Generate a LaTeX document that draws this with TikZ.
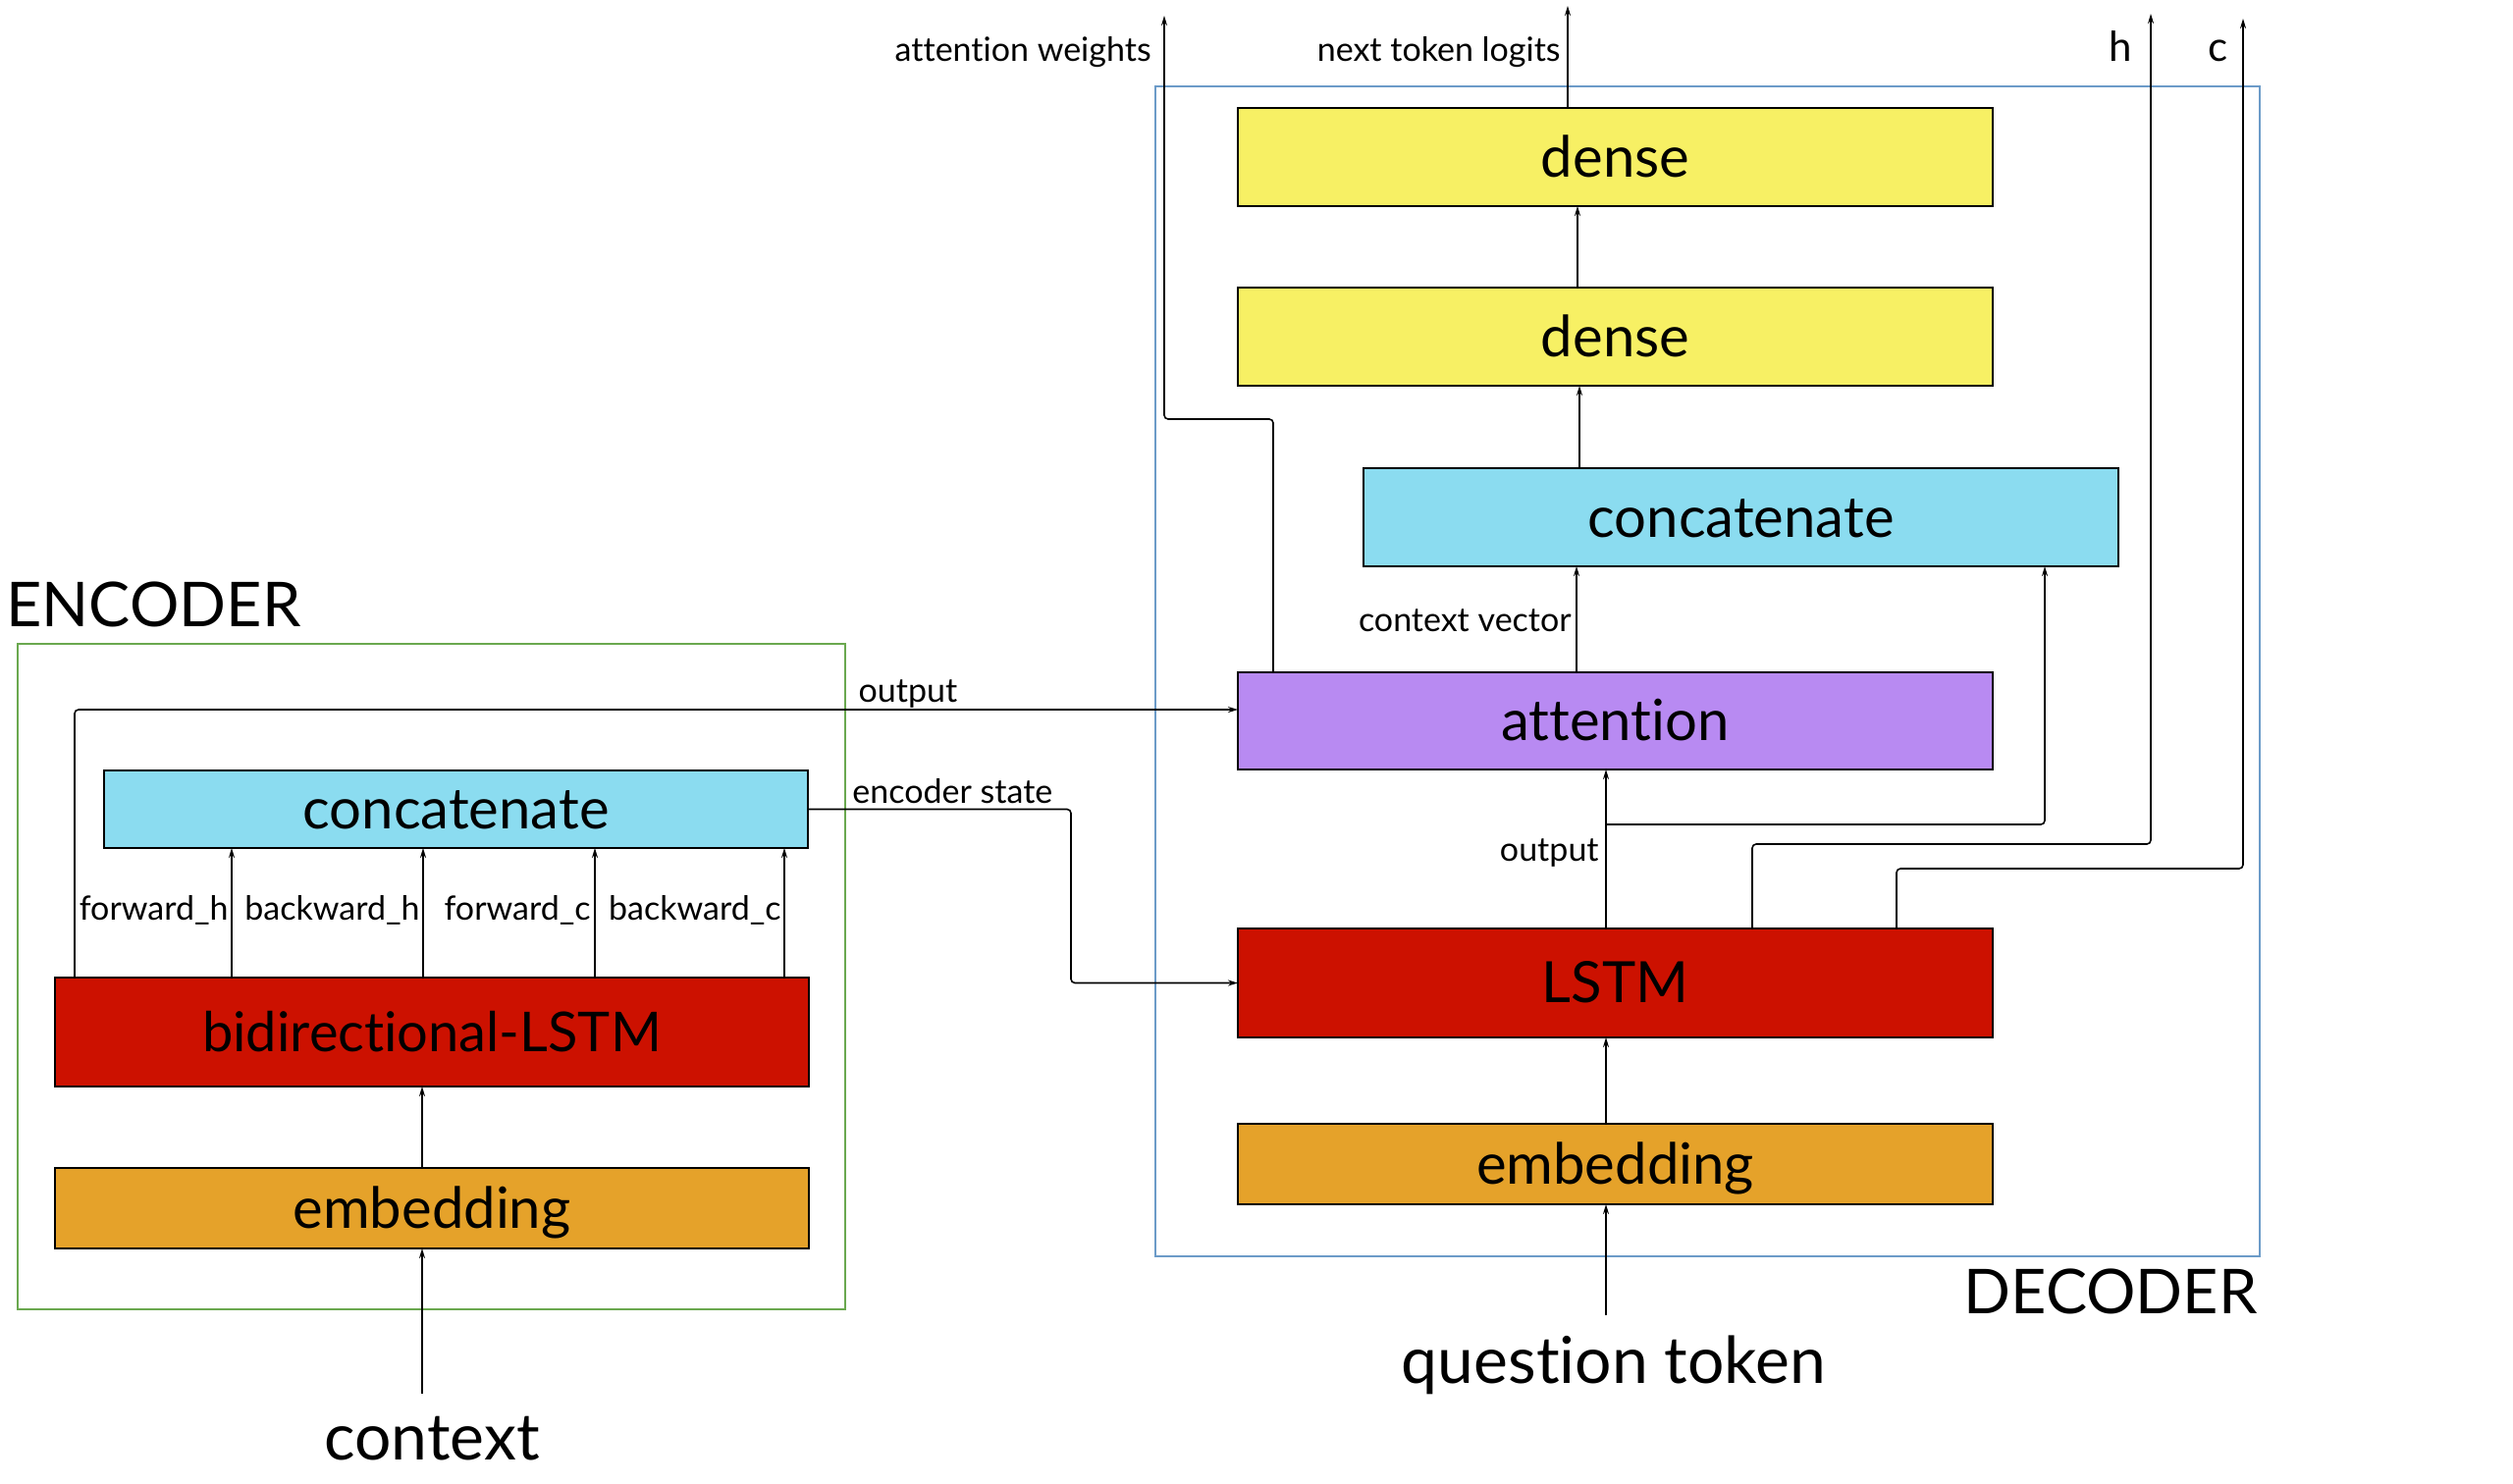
\documentclass[tikz,border=0pt]{standalone}
\usepackage{fontspec}
\setmainfont{Lato}[Ligatures={NoCommon}]
\usetikzlibrary{arrows.meta}
\definecolor{cyel}{RGB}{247,240,100}
\definecolor{ccyan}{RGB}{139,220,240}
\definecolor{cpurp}{RGB}{184,138,242}
\definecolor{cred}{RGB}{204,17,0}
\definecolor{corange}{RGB}{229,162,42}
\definecolor{cgreen}{RGB}{106,168,79}
\definecolor{cblue}{RGB}{108,155,200}
\begin{document}
\begin{tikzpicture}[x=0.5pt,y=-0.5pt,
  blk/.style={draw=black,line width=1.3pt,inner sep=0pt,outer sep=0pt,text height=20pt,text depth=0pt,font=\fontsize{29}{34}\selectfont},
  frame/.style={line width=0.9pt,inner sep=0pt,outer sep=0pt},
  lbl/.style={inner sep=0pt,font=\fontsize{17}{21}\selectfont},
  hclbl/.style={inner sep=0pt,font=\fontsize{21}{25}\selectfont},
  big/.style={inner sep=0pt,font=\fontsize{33}{38}\selectfont},
  title/.style={inner sep=0pt,font=\fontsize{31.5}{37}\selectfont},
  arr/.style={-{Stealth[length=5pt,width=3pt]},line width=0.8pt,rounded corners=2pt}]
\useasboundingbox (0,0) rectangle (2560,1511);
\fill[white] (0,0) rectangle (2560,1511);

% frames
\node[frame,draw=cgreen,minimum width=421.5pt,minimum height=339pt] (encbox) at (439.5,995) {};
\node[frame,draw=cblue,minimum width=562.5pt,minimum height=596pt] (decbox) at (1739.5,684) {};
\node[title,anchor=base west] (enclbl) at (6,638) {ENCODER};
\node[title,anchor=base east] (declbl) at (2300,1338) {DECODER};

% encoder blocks
\node[blk,fill=ccyan,minimum width=358.5pt,minimum height=39.5pt] (econcat) at (464.5,824.5) {concatenate};
\node[blk,fill=cred,minimum width=384pt,minimum height=55.5pt,font=\fontsize{28}{33}\selectfont] (bilstm) at (440,1051.5) {bidirectional-LSTM};
\node[blk,fill=corange,minimum width=384pt,minimum height=41pt] (eemb) at (440,1231) {embedding};
\node[big,anchor=base] (ctx) at (440,1487) {context};

% decoder blocks
\node[blk,fill=cyel,minimum width=384.5pt,minimum height=50pt] (dense1) at (1645.5,160) {dense};
\node[blk,fill=cyel,minimum width=384.5pt,minimum height=50pt] (dense2) at (1645.5,343) {dense};
\node[blk,fill=ccyan,minimum width=384.5pt,minimum height=50pt] (dconcat) at (1773.5,527) {concatenate};
\node[blk,fill=cpurp,minimum width=384.5pt,minimum height=49.5pt] (attn) at (1645.5,734.5) {attention};
\node[blk,fill=cred,minimum width=384.5pt,minimum height=55.5pt] (lstm) at (1645.5,1001.5) {LSTM};
\node[blk,fill=corange,minimum width=384.5pt,minimum height=41pt] (demb) at (1645.5,1186) {embedding};
\node[big,anchor=base] (qtok) at (1644,1409) {question token};

% encoder connectors
\coordinate (cs) at (430,1420);
\draw[arr] (cs) -- (eemb.south -| cs);
\draw[arr] (eemb.north -| cs) -- (bilstm.south -| cs);
\coordinate (fh) at (236,0);
\coordinate (bh) at (431,0);
\coordinate (fc) at (606,0);
\coordinate (bc) at (799,0);
\draw[arr] (bilstm.north -| fh) -- (econcat.south -| fh);
\draw[arr] (bilstm.north -| bh) -- (econcat.south -| bh);
\draw[arr] (bilstm.north -| fc) -- (econcat.south -| fc);
\draw[arr] (bilstm.north -| bc) -- (econcat.south -| bc);
\node[lbl,anchor=base east] (lfh) at (233,937) {forward\_h};
\node[lbl,anchor=base east] (lbh) at (428,937) {backward\_h};
\node[lbl,anchor=base east] (lfc) at (602,937) {forward\_c};
\node[lbl,anchor=base east] (lbc) at (796,937) {backward\_c};

\coordinate (oe) at (76,723);
\draw[arr] (bilstm.north -| oe) -- (oe) -- (attn.west |- oe);
\node[lbl,anchor=base] (lout) at (925,715) {output};

\coordinate (es) at (1091,0);
\draw[arr] (econcat.east) -| (es |- lstm.west) -- (lstm.west);
\node[lbl,anchor=base west] (lest) at (868,818) {encoder state};

% decoder connectors
\coordinate (qs) at (1636,1340);
\draw[arr] (qs) -- (demb.south -| qs);
\draw[arr] (demb.north -| qs) -- (lstm.south -| qs);
\draw[arr] (lstm.north -| qs) -- (attn.south -| qs);
\node[lbl,anchor=base east] (ldout) at (1629,877) {output};

\coordinate (br) at (2083,840);
\draw[arr] (qs |- br) -- (br) -- (dconcat.south -| br);

\coordinate (cv) at (1606,0);
\draw[arr] (attn.north -| cv) -- (dconcat.south -| cv);
\node[lbl,anchor=base east] (lcv) at (1601,643) {context vector};

\coordinate (cd) at (1609,0);
\draw[arr] (dconcat.north -| cd) -- (dense2.south -| cd);
\coordinate (dd) at (1607,0);
\draw[arr] (dense2.north -| dd) -- (dense1.south -| dd);

\coordinate (ntl) at (1597,6);
\draw[arr] (dense1.north -| ntl) -- (ntl);
\node[lbl,anchor=base east] (lntl) at (1590,62) {next token logits};

\coordinate (aw1) at (1297,427);
\coordinate (aw2) at (1186,16);
\draw[arr] (attn.north -| aw1) -- (aw1) -| (aw2);
\node[lbl,anchor=base east] (law) at (1173,62) {attention weights};

\coordinate (h1) at (1785,860);
\coordinate (h2) at (2191,14);
\draw[arr] (lstm.north -| h1) -- (h1) -| (h2);
\node[hclbl,anchor=base] (lh) at (2160,62) {h};

\coordinate (c1) at (1932,885);
\coordinate (c2) at (2285,19);
\draw[arr] (lstm.north -| c1) -- (c1) -| (c2);
\node[hclbl,anchor=base] (lc) at (2260,62) {c};
\end{tikzpicture}
\end{document}
